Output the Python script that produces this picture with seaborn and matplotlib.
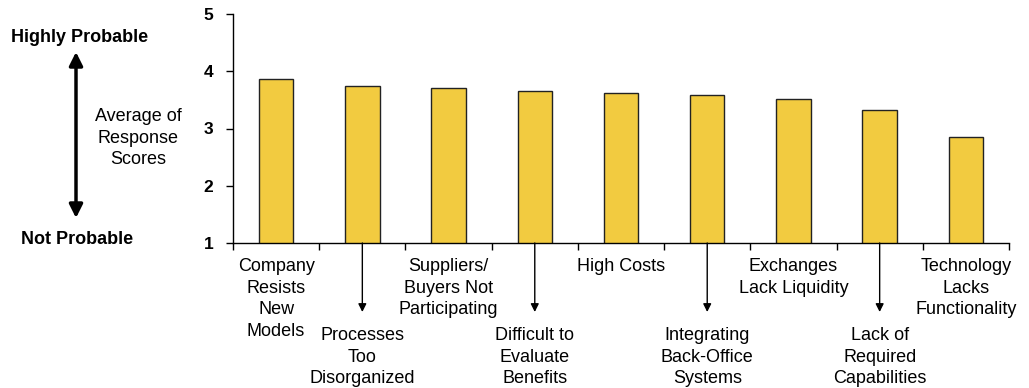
import matplotlib
matplotlib.use("Agg")
import matplotlib.pyplot as plt
from matplotlib.patches import FancyArrowPatch
import seaborn as sns
import pandas as pd

# Survey results: barriers to adoption, averaged response scores (1-5)
categories = [
    "Company\nResists\nNew\nModels",
    "Processes\nToo\nDisorganized",
    "Suppliers/\nBuyers Not\nParticipating",
    "Difficult to\nEvaluate\nBenefits",
    "High Costs",
    "Integrating\nBack-Office\nSystems",
    "Exchanges\nLack Liquidity",
    "Lack of\nRequired\nCapabilities",
    "Technology\nLacks\nFunctionality",
]
scores = [3.87, 3.75, 3.70, 3.66, 3.62, 3.59, 3.52, 3.33, 2.86]
y_ticks = [1, 2, 3, 4, 5]

sns.set_style("white")
plt.rcParams["font.family"] = ["Liberation Sans", "DejaVu Sans"]
plt.rcParams["text.color"] = "black"
plt.rcParams["xtick.color"] = "black"
plt.rcParams["ytick.color"] = "black"

df = pd.DataFrame({"barrier": categories, "score": scores})

fig = plt.figure(figsize=(10.29, 3.88), dpi=100)
ax = fig.add_axes([233 / 1029, 1 - 243 / 388, 776 / 1029, 229 / 388])

sns.barplot(data=df, x="barrier", y="score", color="#F2CB40", width=0.4,
            edgecolor="#222222", linewidth=1.0, saturation=1, ax=ax)

ax.set_ylim(1, 5)
ax.set_xlim(-0.5, len(categories) - 0.5)
ax.set_xlabel("")
ax.set_ylabel("")

# y axis: bold numeric ticks
ax.set_yticks(y_ticks)
ax.set_yticklabels([str(t) for t in y_ticks], fontsize=12.5, fontweight="bold",
                   color="black")
ax.tick_params(axis="y", direction="out", length=5, width=1, color="black", pad=9, left=True)

# x axis: ticks at category boundaries, labels drawn separately
ax.set_xticks([i - 0.5 for i in range(len(categories) + 1)])
ax.set_xticklabels([])
ax.tick_params(axis="x", direction="out", length=5, width=1, color="black", bottom=True)

for side in ("top", "right"):
    ax.spines[side].set_visible(False)
for side in ("left", "bottom"):
    ax.spines[side].set_color("black")
    ax.spines[side].set_linewidth(1.0)

axes_h = 229.0
for i, label in enumerate(categories):
    if i % 2 == 0:
        ax.text(i, -15 / axes_h, label, transform=ax.get_xaxis_transform(),
                ha="center", va="top", fontsize=13, linespacing=1.36, color="black")
    else:
        ax.annotate("", xy=(i, -69 / axes_h), xycoords=ax.get_xaxis_transform(),
                    xytext=(i, 0), textcoords=ax.get_xaxis_transform(),
                    arrowprops=dict(arrowstyle="-|>", color="black", lw=1.0,
                                    mutation_scale=12, shrinkA=0, shrinkB=0),
                    annotation_clip=False)
        ax.text(i, -84 / axes_h, label, transform=ax.get_xaxis_transform(),
                ha="center", va="top", fontsize=13, linespacing=1.36, color="black")

# left-hand scale explanation
fig.text(80 / 1029, 1 - 37.5 / 388, "Highly Probable", ha="center", va="center",
         fontsize=13, fontweight="bold", color="black")
fig.text(77 / 1029, 1 - 240 / 388, "Not Probable", ha="center", va="center",
         fontsize=13, fontweight="bold", color="black")
fig.text(138 / 1029, 1 - 138 / 388, "Average of\nResponse\nScores", ha="center",
         va="center", fontsize=13, linespacing=1.32, color="black")
fig.patches.append(FancyArrowPatch((76 / 1029, 1 - 218 / 388), (76 / 1029, 1 - 52 / 388),
                                   transform=fig.transFigure, arrowstyle="<|-|>",
                                   mutation_scale=20, lw=2.5, color="black",
                                   shrinkA=0, shrinkB=0))

fig.savefig("out.png", dpi=100)
